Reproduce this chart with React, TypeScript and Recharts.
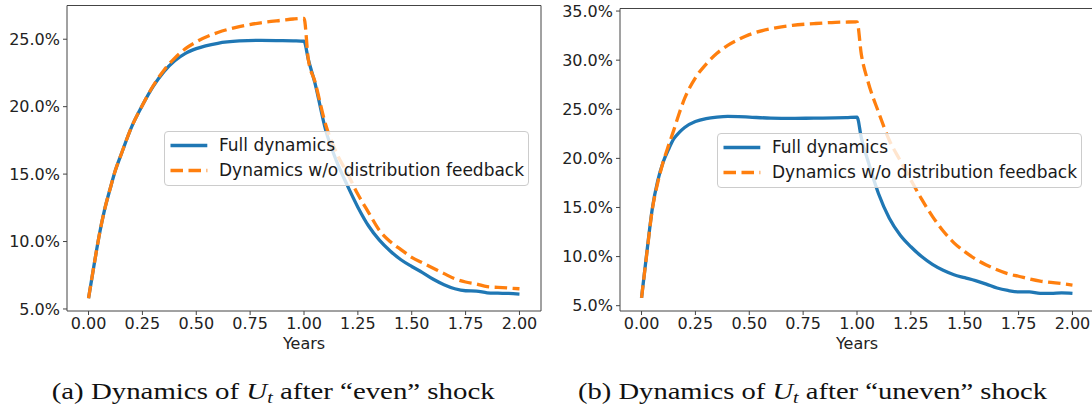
import React from "react";
import { LineChart, Line, XAxis, YAxis, Legend, ReferenceLine } from "recharts";

// years on the horizontal axis, unemployment U_t in percent
const yearsA = [0, 0.025, 0.05, 0.075, 0.1, 0.125, 0.15, 0.2, 0.25, 0.3, 0.35, 0.4, 0.45, 0.5, 0.6, 0.7, 0.8, 0.9, 0.95, 1.0,
  1.02, 1.05, 1.1, 1.15, 1.2, 1.25, 1.3, 1.35, 1.4, 1.45, 1.5, 1.55, 1.6, 1.65, 1.7, 1.75, 1.8, 1.85, 1.9, 1.95, 2.0];
const fullA = [5.8, 8.2, 10.5, 12.4, 13.9, 15.3, 16.4, 18.5, 20.1, 21.5, 22.6, 23.4, 23.95, 24.3, 24.7, 24.87, 24.92, 24.9, 24.88, 24.85,
  23.5, 21.8, 18.3, 16.0, 14.2, 12.55, 11.15, 10.1, 9.3, 8.65, 8.15, 7.7, 7.2, 6.8, 6.5, 6.35, 6.33, 6.2, 6.17, 6.15, 6.1];
const noFeedbackA = [5.8, 8.2, 10.5, 12.4, 13.9, 15.3, 16.4, 18.5, 20.1, 21.55, 22.7, 23.6, 24.3, 24.8, 25.5, 25.93, 26.22, 26.41, 26.5, 26.55,
  23.5, 21.9, 18.7, 16.6, 15.1, 13.5, 12.15, 10.83, 10.0, 9.4, 8.83, 8.42, 8.02, 7.62, 7.24, 7.0, 6.86, 6.65, 6.6, 6.55, 6.5];

const yearsB = [0, 0.025, 0.05, 0.075, 0.1, 0.125, 0.15, 0.175, 0.2, 0.25, 0.3, 0.35, 0.4, 0.45, 0.5, 0.6, 0.7, 0.8, 0.9, 0.95, 1.0,
  1.02, 1.05, 1.1, 1.15, 1.2, 1.25, 1.3, 1.35, 1.4, 1.45, 1.5, 1.55, 1.6, 1.65, 1.7, 1.75, 1.8, 1.85, 1.9, 1.95, 2.0];
const fullB = [5.8, 10.5, 14.9, 17.7, 19.6, 20.9, 22.0, 22.65, 23.15, 23.75, 24.05, 24.2, 24.27, 24.25, 24.2, 24.1, 24.07, 24.1, 24.12, 24.15, 24.2,
  22.1, 19.8, 16.4, 13.9, 12.2, 11.0, 10.0, 9.2, 8.6, 8.15, 7.85, 7.55, 7.2, 6.8, 6.55, 6.4, 6.4, 6.25, 6.25, 6.3, 6.25];
const noFeedbackB = [5.8, 10.4, 14.8, 17.5, 19.6, 21.3, 22.9, 24.6, 26.1, 28.2, 29.6, 30.7, 31.5, 32.1, 32.6, 33.2, 33.55, 33.72, 33.85, 33.88, 33.9,
  30.6, 27.9, 24.7, 21.85, 19.8, 17.8, 15.85, 14.1, 12.6, 11.4, 10.5, 9.75, 9.15, 8.65, 8.25, 8.0, 7.72, 7.5, 7.37, 7.25, 7.1];

const xTicks = [0, 0.25, 0.5, 0.75, 1.0, 1.25, 1.5, 1.75, 2.0];
const yTicksA = [5, 10, 15, 20, 25];
const yTicksB = [5, 10, 15, 20, 25, 30, 35];
const seriesNames = ["Full dynamics", "Dynamics w/o distribution feedback"];

const BLUE = "#1f77b4";
const ORANGE = "#ff7f0e";
const SPINE = "#444";
const FONT = "DejaVu Sans";

const toRows = (years: number[], full: number[], nofb: number[]) =>
  years.map((t, i) => ({ t, full: full[i], nofb: nofb[i] }));

function MplLegend(props: any) {
  // keep plotting order, not alphabetical
  const items = [...(props.payload || [])].sort(
    (a: any, b: any) => seriesNames.indexOf(a.value) - seriesNames.indexOf(b.value));
  return (
    <div style={{
      width: 365, height: 55, boxSizing: "border-box", border: "1px solid #cccccc", borderRadius: 4,
      background: "rgba(255,255,255,0.8)", fontFamily: FONT, fontSize: 17, color: "#1a1a1a", position: "relative",
    }}>
      {items.map((it: any, i: number) => (
        <div key={it.value} style={{ position: "absolute", left: 0, top: 13 + i * 25 - 10, height: 20, width: "100%" }}>
          <svg width={50} height={20} style={{ position: "absolute", left: 0, top: 0 }}>
            <line x1={5.5} x2={42.3} y1={10.5} y2={10.5} stroke={it.color} strokeWidth={3.3}
              strokeDasharray={it.payload && it.payload.strokeDasharray} />
          </svg>
          <span style={{ position: "absolute", left: 54, top: 0, lineHeight: "20px", whiteSpace: "nowrap" }}>{it.value}</span>
        </div>
      ))}
    </div>
  );
}

function Panel({ rows, domain, yTicks, top, legendTop }: { rows: any[]; domain: number[]; yTicks: number[]; top: number; legendTop: number }) {
  return (
    <LineChart width={560} height={360} data={rows} margin={{ top, right: 19, left: 0, bottom: 4 }}>
      <XAxis dataKey="t" type="number" domain={[-0.1, 2.1]} ticks={xTicks} allowDataOverflow
        tickFormatter={(v: number) => v.toFixed(2)} height={45} tickSize={4} tickMargin={3}
        axisLine={{ stroke: SPINE }} tickLine={{ stroke: SPINE }}
        tick={{ fontFamily: FONT, fontSize: 16, fill: "#222" }}
        label={{ value: "Years", position: "insideBottom", offset: 7, fontFamily: FONT, fontSize: 16, fill: "#222" }} />
      <YAxis type="number" domain={domain} ticks={yTicks} allowDataOverflow width={67} tickSize={4} tickMargin={3}
        tickFormatter={(v: number) => v.toFixed(1) + "%"}
        axisLine={{ stroke: SPINE }} tickLine={{ stroke: SPINE }}
        tick={{ fontFamily: FONT, fontSize: 16, fill: "#222" }} />
      <ReferenceLine y={domain[1]} stroke={SPINE} strokeWidth={1} />
      <ReferenceLine x={2.1} stroke={SPINE} strokeWidth={1} />
      <Line type="monotone" dataKey="full" name={seriesNames[0]} stroke={BLUE} strokeWidth={3.3} dot={false} isAnimationActive={false} />
      <Line type="monotone" dataKey="nofb" name={seriesNames[1]} stroke={ORANGE} strokeWidth={3.3}
        strokeDasharray="12.5 5.5" dot={false} isAnimationActive={false} />
      <Legend layout="horizontal" verticalAlign="middle" align="center" content={<MplLegend />}
        wrapperStyle={{ left: 164, top: legendTop, width: 366, height: 55 }} />
    </LineChart>
  );
}

export default function App() {
  const rowsA = toRows(yearsA, fullA, noFeedbackA);
  const rowsB = toRows(yearsB, fullB, noFeedbackB);
  return (
    <div style={{ position: "absolute", left: 0, top: 0, width: 1092, height: 407, overflow: "hidden", background: "#fff" }}>
      <div style={{ position: "absolute", left: 0, top: 0 }}>
        <Panel rows={rowsA} domain={[4.85, 27.5]} yTicks={yTicksA} top={5.5} legendTop={130.7} />
      </div>
      <div style={{ position: "absolute", left: 553, top: 0 }}>
        <Panel rows={rowsB} domain={[4.46, 35.26]} yTicks={yTicksB} top={8.5} legendTop={132.7} />
      </div>
      <svg width={1092} height={407} style={{ position: "absolute", left: 0, top: 0, pointerEvents: "none" }}>
        <text x={51.7} y={398.7} fontFamily="Liberation Serif" fontSize={23} fill="#111" textLength={443} lengthAdjust="spacingAndGlyphs">
          (a) Dynamics of <tspan fontStyle="italic">U</tspan><tspan fontStyle="italic" fontSize={16} dy={4}>t</tspan>
          <tspan dy={-4}> after “even” shock</tspan>
        </text>
        <text x={578} y={398.7} fontFamily="Liberation Serif" fontSize={23} fill="#111" textLength={469} lengthAdjust="spacingAndGlyphs">
          (b) Dynamics of <tspan fontStyle="italic">U</tspan><tspan fontStyle="italic" fontSize={16} dy={4}>t</tspan>
          <tspan dy={-4}> after “uneven” shock</tspan>
        </text>
      </svg>
    </div>
  );
}
